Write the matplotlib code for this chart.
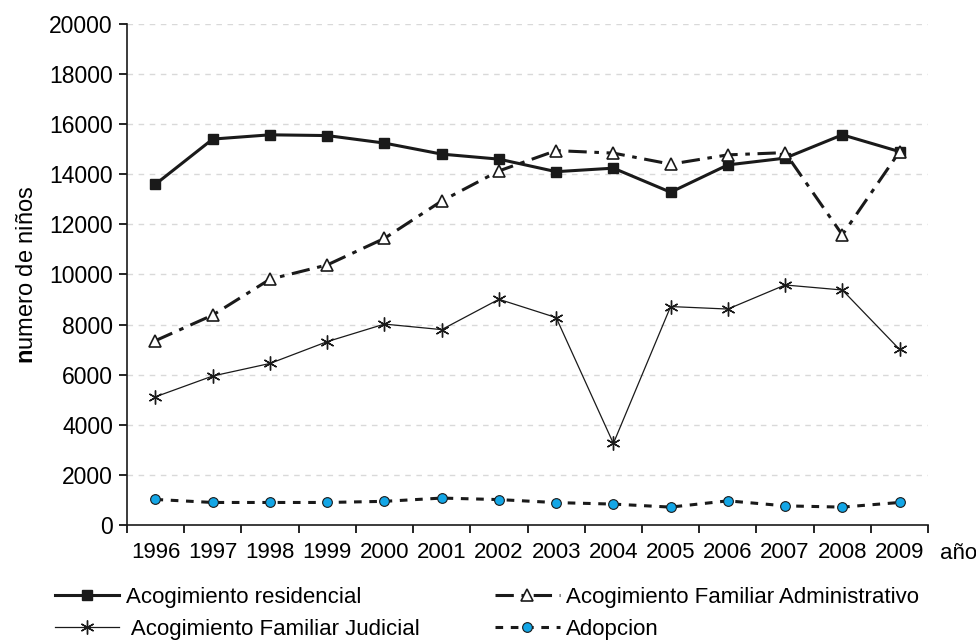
import numpy as np
import matplotlib
matplotlib.use("Agg")
import matplotlib.pyplot as plt

plt.rcParams['font.family'] = ['Liberation Sans', 'DejaVu Sans']
plt.rcParams['mathtext.fontset'] = 'custom'
plt.rcParams['mathtext.bf'] = 'Liberation Sans:bold'
plt.rcParams['mathtext.rm'] = 'Liberation Sans'

# data
years = ['1996', '1997', '1998', '1999', '2000', '2001', '2002',
         '2003', '2004', '2005', '2006', '2007', '2008', '2009']
residencial = [13600, 15400, 15570, 15540, 15240, 14800, 14600,
               14100, 14240, 13280, 14370, 14640, 15570, 14900]
administrativo = [7360, 8380, 9810, 10380, 11440, 12930, 14130,
                  14940, 14840, 14400, 14770, 14860, 11580, 14900]
judicial = [5120, 5950, 6450, 7320, 8020, 7800, 9010,
            8280, 3260, 8720, 8620, 9580, 9380, 7010]
adopcion = [1025, 905, 905, 905, 950, 1080, 1020,
            900, 840, 720, 970, 770, 720, 905]

fig = plt.figure(figsize=(9.76, 6.42), dpi=100)
ax = fig.add_axes([0.130, 0.182, 0.821, 0.781])

x = np.arange(len(years))

l1, = ax.plot(x, residencial, color='#1a1a1a', lw=2.2, marker='s', ms=7,
              mfc='#1a1a1a', mec='#1a1a1a', label='Acogimiento residencial')
l2, = ax.plot(x, administrativo, color='#1a1a1a', lw=2.2,
              linestyle=(0, (6, 2.5, 1.5, 2.5)), marker='^', ms=8,
              mfc='white', mec='#1a1a1a', mew=1.2,
              label='Acogimiento Familiar Administrativo')
l3, = ax.plot(x, judicial, color='#1a1a1a', lw=0.9, marker=(6, 2, 0), ms=10,
              mec='#1a1a1a', mew=1.0, label=' Acogimiento Familiar Judicial')
l4, = ax.plot(x, adopcion, color='#1a1a1a', lw=2.2, linestyle=(0, (2.5, 2.5)),
              marker='o', ms=7, mfc='#13a6e6', mec='#1a1a1a', mew=0.8,
              label='Adopcion')

ax.set_ylim(0, 20000)
ax.set_xlim(-0.5, 13.5)
ax.set_yticks(np.arange(0, 20001, 2000))
ax.set_xticks(np.arange(-0.5, 13.6, 1))
ax.set_xticklabels([])
ax.set_xticks(x, minor=True)
ax.set_xticklabels(years, minor=True)
ax.tick_params(axis='x', which='minor', length=0, pad=12, labelsize=16)
ax.tick_params(axis='x', which='major', length=6, width=1.2, direction='out')
ax.tick_params(axis='y', length=6, width=1.2, direction='out', labelsize=16.5, pad=4)

for s in ['top', 'right']:
    ax.spines[s].set_visible(False)
for s in ['left', 'bottom']:
    ax.spines[s].set_linewidth(1.2)
    ax.spines[s].set_color('#1a1a1a')

for v in range(2000, 20001, 2000):
    ax.axhline(v, color='#d9d9d9', lw=1, linestyle=(0, (4, 4)), zorder=0)

ax.set_ylabel(r'$\mathbf{n}$umero de niños', fontsize=17, labelpad=8)
fig.text(0.963, 0.138, 'año', fontsize=16, ha='left', va='center')

fig.legend(handles=[l1, l3, l2, l4], ncol=2, loc='upper left',
           bbox_to_anchor=(0.047, 0.100), frameon=False, fontsize=16,
           handlelength=2.9, handletextpad=0.3, columnspacing=3.4,
           labelspacing=0.52, borderaxespad=0)

fig.savefig('out.png', dpi=100)
